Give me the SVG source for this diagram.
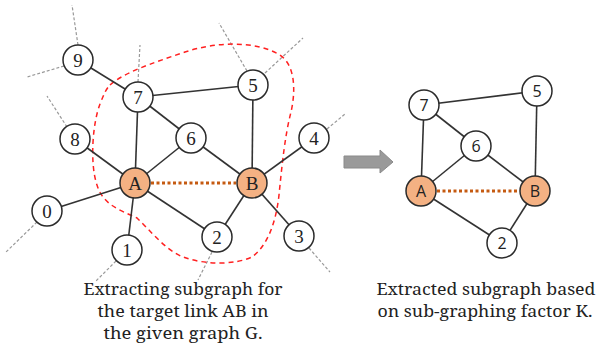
<svg xmlns="http://www.w3.org/2000/svg" width="598" height="353" viewBox="0 0 598 353">
<style>
.n circle{fill:#fff;stroke:#2b2b2b;stroke-width:1.5}
.n.o circle{fill:#f4b183}
.ls{font-family:"Liberation Serif","DejaVu Serif",serif;font-size:19px;fill:#222;text-anchor:middle}
.rs{font-family:"Open Sans","Liberation Sans",sans-serif;font-size:16px;fill:#222;text-anchor:middle}
.e line{stroke:#333;stroke-width:1.6}
.stub line{stroke:#999;stroke-width:1.2;stroke-dasharray:3 2}
.ab{stroke:#c55a11;stroke-width:3.2;stroke-dasharray:3 2.5}
.cap{font-family:"Noto Serif","Liberation Serif",serif;font-size:17px;fill:#222;text-anchor:middle}
.cap2{font-size:16.5px}
</style>
<rect width="598" height="353" fill="#fff"/>
<g id="connectors">
<g class="stub">
<line x1="78" y1="45" x2="72" y2="5"/>
<line x1="64" y1="66" x2="27" y2="77"/>
<line x1="138" y1="82" x2="140" y2="45"/>
<line x1="247" y1="71" x2="219" y2="23"/>
<line x1="265" y1="73" x2="303" y2="38"/>
<line x1="67" y1="127" x2="47" y2="96"/>
<line x1="327" y1="129" x2="345" y2="114"/>
<line x1="37" y1="222" x2="5" y2="253"/>
<line x1="116" y1="261" x2="95" y2="282"/>
<line x1="212" y1="252" x2="198" y2="280"/>
<line x1="309" y1="248" x2="330" y2="272"/>
</g>
<path d="M110,85 C125,72 150,64 185,52 C215,42 255,40 280,55 C295,65 296,90 291,112 C285,135 282,165 279,195 C276,222 268,245 252,257 C235,265 205,265 183,257 C165,250 150,230 137,218 C120,210 103,205 97,185 C90,165 92,125 100,104 C104,94 106,89 110,85 Z" fill="none" stroke="#ff2020" stroke-width="1.5" stroke-dasharray="5 4"/>
<g class="e">
<line x1="78" y1="60" x2="138" y2="97"/>
<line x1="138" y1="97" x2="253" y2="85"/>
<line x1="138" y1="97" x2="135" y2="183"/>
<line x1="138" y1="97" x2="191" y2="138"/>
<line x1="191" y1="138" x2="135" y2="183"/>
<line x1="191" y1="138" x2="252" y2="183"/>
<line x1="253" y1="85" x2="252" y2="183"/>
<line x1="75" y1="139" x2="135" y2="183"/>
<line x1="314" y1="138" x2="252" y2="183"/>
<line x1="135" y1="183" x2="47" y2="211"/>
<line x1="135" y1="183" x2="127" y2="250"/>
<line x1="135" y1="183" x2="217" y2="237"/>
<line x1="252" y1="183" x2="217" y2="237"/>
<line x1="252" y1="183" x2="299" y2="236"/>
<line x1="424" y1="105" x2="537" y2="91"/>
<line x1="424" y1="105" x2="421" y2="191"/>
<line x1="424" y1="105" x2="476" y2="146"/>
<line x1="476" y1="146" x2="421" y2="191"/>
<line x1="476" y1="146" x2="535" y2="191"/>
<line x1="537" y1="91" x2="535" y2="191"/>
<line x1="421" y1="191" x2="502" y2="243"/>
<line x1="535" y1="191" x2="502" y2="243"/>
</g>
<line class="ab" x1="151" y1="183" x2="236" y2="183"/>
<line class="ab" x1="437" y1="191" x2="519" y2="191"/>
<path d="M344,156 H380 V150 L393,162 L380,173 V168 H344 Z" fill="#9a9a9a" stroke="#8a8a8a" stroke-width="1"/>
</g>
<g id="n9" class="n"><circle cx="78" cy="60" r="15"/><text class="ls" x="78" y="66.5">9</text></g>
<g id="n7" class="n"><circle cx="138" cy="97" r="15"/><text class="ls" x="138" y="103.5">7</text></g>
<g id="n5" class="n"><circle cx="253" cy="85" r="15"/><text class="ls" x="253" y="91.5">5</text></g>
<g id="n8" class="n"><circle cx="75" cy="139" r="15"/><text class="ls" x="75" y="145.5">8</text></g>
<g id="n6" class="n"><circle cx="191" cy="138" r="15"/><text class="ls" x="191" y="144.5">6</text></g>
<g id="n4" class="n"><circle cx="314" cy="138" r="15"/><text class="ls" x="314" y="144.5">4</text></g>
<g id="nA" class="n o"><circle cx="135" cy="183" r="15"/><text class="ls" x="135" y="189.5">A</text></g>
<g id="nB" class="n o"><circle cx="252" cy="183" r="15"/><text class="ls" x="252" y="189.5">B</text></g>
<g id="n0" class="n"><circle cx="47" cy="211" r="15"/><text class="ls" x="47" y="217.5">0</text></g>
<g id="n1" class="n"><circle cx="127" cy="250" r="15"/><text class="ls" x="127" y="256.5">1</text></g>
<g id="n2" class="n"><circle cx="217" cy="237" r="15"/><text class="ls" x="217" y="243.5">2</text></g>
<g id="n3" class="n"><circle cx="299" cy="236" r="15"/><text class="ls" x="299" y="242.5">3</text></g>
<g id="r7" class="n"><circle cx="424" cy="105" r="15"/><text class="rs" x="424" y="111">7</text></g>
<g id="r5" class="n"><circle cx="537" cy="91" r="15"/><text class="rs" x="537" y="97">5</text></g>
<g id="r6" class="n"><circle cx="476" cy="146" r="15"/><text class="rs" x="476" y="152">6</text></g>
<g id="rA" class="n o"><circle cx="421" cy="191" r="15"/><text class="rs" x="421" y="197">A</text></g>
<g id="rB" class="n o"><circle cx="535" cy="191" r="15"/><text class="rs" x="535" y="197">B</text></g>
<g id="r2" class="n"><circle cx="502" cy="243" r="15"/><text class="rs" x="502" y="249">2</text></g>
<g id="captions">
<text class="cap" x="183" y="295" textLength="199" lengthAdjust="spacingAndGlyphs">Extracting subgraph for</text>
<text class="cap" x="183" y="317" textLength="171" lengthAdjust="spacingAndGlyphs">the target link AB in</text>
<text class="cap" x="183" y="339" textLength="159" lengthAdjust="spacingAndGlyphs">the given graph G.</text>
<text class="cap cap2" x="486" y="295" textLength="219" lengthAdjust="spacingAndGlyphs">Extracted subgraph based</text>
<text class="cap cap2" x="485" y="317" textLength="215" lengthAdjust="spacingAndGlyphs">on sub-graphing factor K.</text>
</g>
</svg>
